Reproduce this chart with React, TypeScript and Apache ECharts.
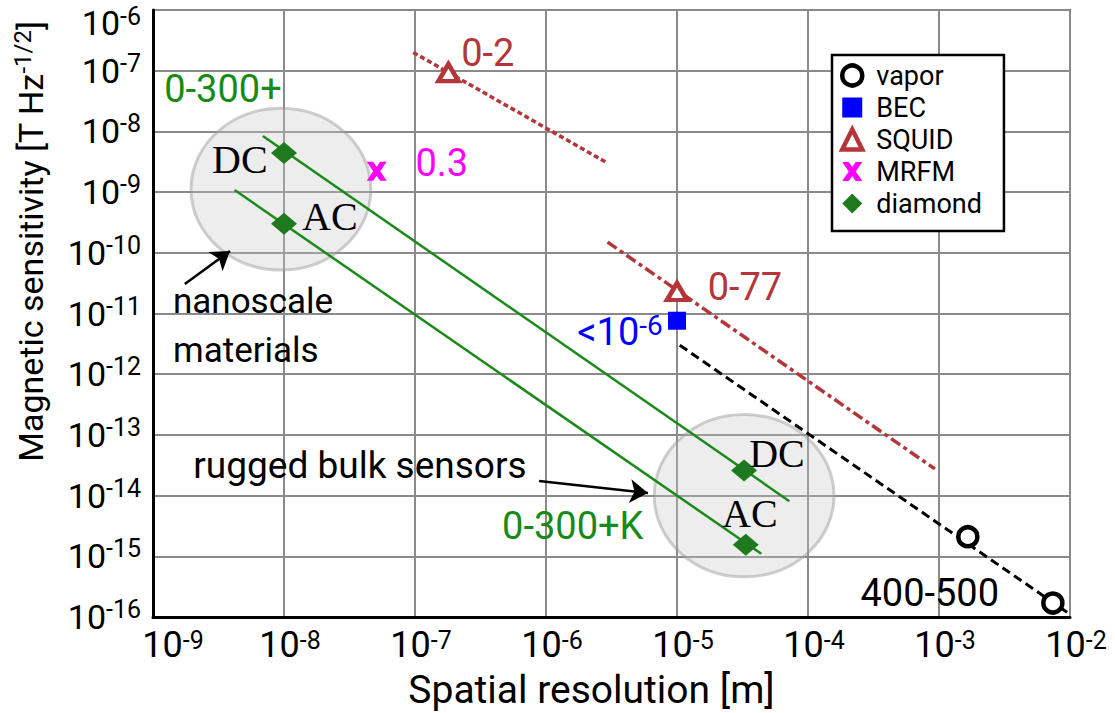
import React, { useEffect, useRef } from "react";
import * as echarts from "echarts";

// ---- axes (decade exponents) ----
const xExponents = [-9, -8, -7, -6, -5, -4, -3, -2];
const yExponents = [-16, -15, -14, -13, -12, -11, -10, -9, -8, -7, -6];

// ---- measured points [m], [T Hz^-1/2] ----
const vaporX = [1.66e-3, 7.4e-3];
const vaporY = [2.1e-15, 1.7e-16];
const becX = [1.0e-5];
const becY = [7.6e-12];
const squidX = [1.8e-7, 1.0e-5];
const squidY = [9.3e-8, 2.3e-11];
const mrfmX = [5.1e-8];
const mrfmY = [2.2e-9];
const diamondX = [1.0e-8, 1.0e-8, 3.25e-5, 3.35e-5];
const diamondY = [4.4e-9, 3.0e-10, 2.6e-14, 1.55e-15];

// ---- trend lines ----
const vaporLineX = [1.05e-5, 9.5e-3];
const vaporLineY = [3.0e-12, 1.2e-16];
const squidLine1X = [9.7e-8, 2.95e-6];
const squidLine1Y = [2.0e-7, 3.0e-9];
const squidLine2X = [2.95e-6, 9.3e-4];
const squidLine2Y = [1.5e-10, 2.75e-14];
const dcLineX = [6.9e-9, 7.2e-5];
const dcLineY = [8.4e-9, 8.1e-15];
const acLineX = [4.2e-9, 4.4e-5];
const acLineY = [1.08e-9, 1.1e-15];

// ---- shaded regions (bounding boxes) ----
const regionXMin = [1.95e-9, 6.7e-6];
const regionXMax = [4.6e-8, 1.58e-4];
const regionYMin = [5.2e-11, 4.6e-16];
const regionYMax = [2.4e-8, 2.16e-13];

// ---- arrows ----
const arrowTailX = [1.75e-9, 8.85e-7];
const arrowTailY = [3.06e-11, 1.74e-14];
const arrowHeadX = [3.87e-9, 6.0e-6];
const arrowHeadY = [1.07e-10, 1.1e-14];

// ---- annotations ----
const annoText = [
  "0-300+", "0.3", "0-2", "0-77", "{a|<10}{s|-6}", "400-500", "0-300+K",
  "rugged bulk sensors", "nanoscale", "materials", "DC", "AC", "DC", "AC",
];
const annoX = [3.42e-9, 1.6e-7, 3.6e-7, 3.3e-5, 3.67e-6, 8.5e-4, 1.6e-6, 3.8e-8, 1.42e-9, 1.42e-9, 4.6e-9, 2.24e-8, 5.8e-5, 3.6e-5];
const annoY = [5.0e-8, 3.0e-9, 1.96e-7, 2.7e-11, 5.0e-12, 2.5e-16, 3.2e-15, 3.1e-14, 1.55e-11, 2.5e-12, 3.4e-9, 3.9e-10, 5.0e-14, 5.1e-15];
const annoKind = ["green", "magenta", "brown", "brown", "blue", "black", "green", "note", "noteL", "noteL", "serif", "serif", "serif", "serif"];

const SANS = "Roboto, 'Open Sans', sans-serif";
const SERIF = "'Liberation Serif', 'DejaVu Serif', serif";
const BROWN = "#b5363a";
const GREEN_LINE = "#1b8a1b";
const GREEN_MARK = "#1f7a1f";
const GREEN_TEXT = "#178a17";
const X_SYMBOL = "path://M0,0L6.5,0L10,5L13.5,0L20,0L13.5,9.5L20,19L13.5,19L10,14L6.5,19L0,19L6.5,9.5Z";

const lg = (v: number) => Math.log10(v);
const pts = (xs: number[], ys: number[]) => xs.map((x, i) => [lg(x), lg(ys[i])]);

const kindStyle: Record<string, any> = {
  green: { fill: GREEN_TEXT, fontSize: 38, fontFamily: SANS, align: "center" },
  magenta: { fill: "#ff00ff", fontSize: 38, fontFamily: SANS, align: "center" },
  brown: { fill: BROWN, fontSize: 38, fontFamily: SANS, align: "center" },
  blue: { fill: "#0000ff", fontSize: 38, fontFamily: SANS, align: "center" },
  black: { fill: "#000", fontSize: 38, fontFamily: SANS, align: "center" },
  note: { fill: "#000", fontSize: 37, fontFamily: SANS, align: "center" },
  noteL: { fill: "#000", fontSize: 35, fontFamily: SANS, align: "left" },
  serif: { fill: "#000", fontSize: 40, fontFamily: SERIF, align: "center" },
};

function buildOption(): any {
  const tickRichX = {
    b: { fontSize: 36, fontFamily: SANS, color: "#000", lineHeight: 34, padding: [0, 0, 0, 12] },
    b0: { fontSize: 36, fontFamily: SANS, color: "#000", lineHeight: 34, padding: [0, 0, 0, 40] },
    s: { fontSize: 25, fontFamily: SANS, color: "#000", lineHeight: 26, verticalAlign: "top" },
  };
  const tickRichY = {
    b: { fontSize: 34, fontFamily: SANS, color: "#000", lineHeight: 40 },
    s: { fontSize: 25, fontFamily: SANS, color: "#000", lineHeight: 30, verticalAlign: "top" },
    bt: { fontSize: 34, fontFamily: SANS, color: "#000", lineHeight: 40, padding: [26, 0, 0, 0] },
    st: { fontSize: 25, fontFamily: SANS, color: "#000", lineHeight: 30, padding: [14, 0, 0, 0], verticalAlign: "top" },
  };

  return {
    animation: false,
    backgroundColor: "#fff",
    grid: {
      left: 153, right: 45, top: 10, bottom: 96,
      show: true, borderColor: "#555", borderWidth: 2,
      containLabel: false, outerBoundsMode: "none",
    },
    legend: {
      orient: "vertical",
      left: 832,
      top: 55,
      padding: [7, 22, 14, 8],
      backgroundColor: "#fff",
      borderColor: "#000",
      borderWidth: 2.5,
      itemWidth: 20,
      itemHeight: 20,
      itemGap: 5,
      selectedMode: false,
      z: 20,
      textStyle: { fontFamily: SANS, fontSize: 27, color: "#000", padding: [0, 0, 0, 9] },
      data: [
        { name: "vapor", icon: "circle", itemStyle: { color: "#fff", borderColor: "#000", borderWidth: 4.5, opacity: 1 } },
        { name: "BEC", icon: "rect", itemStyle: { color: "#0000ff", borderWidth: 0, opacity: 1 } },
        { name: "SQUID", icon: "triangle", itemStyle: { color: "#fff", borderColor: BROWN, borderWidth: 4.5, opacity: 1 } },
        { name: "MRFM", icon: X_SYMBOL, itemStyle: { color: "#ff00ff", borderWidth: 0, opacity: 1 } },
        { name: "diamond", icon: "diamond", itemStyle: { color: GREEN_MARK, borderWidth: 0, opacity: 1 } },
      ],
    },
    xAxis: {
      type: "value",
      min: xExponents[0],
      max: xExponents[xExponents.length - 1],
      interval: 1,
      name: "Spatial resolution [m]",
      nameLocation: "middle",
      nameGap: 55,
      nameTextStyle: { fontFamily: SANS, fontSize: 39, color: "#000", lineHeight: 36, padding: [0, 40, 0, 0] },
      axisLine: { lineStyle: { color: "#000", width: 3 } },
      axisTick: { show: false },
      splitLine: { show: true, lineStyle: { color: "#8a8a8a", width: 2 } },
      axisLabel: {
        margin: 11,
        formatter: (v: number) => {
          const e = Math.round(v);
          return e === xExponents[0] ? `{b0|10}{s|${e}}` : `{b|10}{s|${e}}`;
        },
        rich: tickRichX,
      },
    },
    yAxis: {
      type: "value",
      min: yExponents[0],
      max: yExponents[yExponents.length - 1],
      interval: 1,
      name: "Magnetic sensitivity [T Hz{s|-1/2}]",
      nameLocation: "middle",
      nameGap: 102,
      nameTextStyle: {
        fontFamily: SANS,
        fontSize: 34,
        color: "#000",
        lineHeight: 40,
        padding: [0, 0, 0, 144],
        rich: { s: { fontFamily: SANS, fontSize: 24, color: "#000", lineHeight: 28, verticalAlign: "top" } },
      },
      axisLine: { lineStyle: { color: "#000", width: 3 } },
      axisTick: { show: false },
      splitLine: { show: true, lineStyle: { color: "#8a8a8a", width: 2 } },
      axisLabel: {
        margin: 12,
        formatter: (v: number) => {
          const e = Math.round(v);
          return e === yExponents[yExponents.length - 1] ? `{bt|10}{st|${e}}` : `{b|10}{s|${e}}`;
        },
        rich: tickRichY,
      },
    },
    series: [
      {
        name: "regions",
        type: "custom",
        coordinateSystem: "cartesian2d",
        silent: true,
        z: 1,
        data: regionXMin.map((x, i) => [lg(x), lg(regionYMin[i]), lg(regionXMax[i]), lg(regionYMax[i])]),
        renderItem: (params: any, api: any) => {
          const p1 = api.coord([api.value(0), api.value(3)]);
          const p2 = api.coord([api.value(2), api.value(1)]);
          return {
            type: "ellipse",
            shape: { cx: (p1[0] + p2[0]) / 2, cy: (p1[1] + p2[1]) / 2, rx: Math.abs(p2[0] - p1[0]) / 2, ry: Math.abs(p2[1] - p1[1]) / 2 },
            style: { fill: "rgba(200,200,200,0.33)", stroke: "rgba(150,150,150,0.45)", lineWidth: 3 },
          };
        },
      },
      {
        name: "vapor trend", type: "line", data: pts(vaporLineX, vaporLineY), symbol: "none", silent: true, z: 3,
        lineStyle: { color: "#000", width: 3, type: [9, 5] },
      },
      {
        name: "SQUID trend 1", type: "line", data: pts(squidLine1X, squidLine1Y), symbol: "none", silent: true, z: 3,
        lineStyle: { color: BROWN, width: 3.5, type: [5, 3] },
      },
      {
        name: "SQUID trend 2", type: "line", data: pts(squidLine2X, squidLine2Y), symbol: "none", silent: true, z: 3,
        lineStyle: { color: BROWN, width: 3.5, type: [11, 4, 4, 4] },
      },
      {
        name: "DC trend", type: "line", data: pts(dcLineX, dcLineY), symbol: "none", silent: true, z: 3,
        lineStyle: { color: GREEN_LINE, width: 2.5 },
      },
      {
        name: "AC trend", type: "line", data: pts(acLineX, acLineY), symbol: "none", silent: true, z: 3,
        lineStyle: { color: GREEN_LINE, width: 2.5 },
      },
      {
        name: "arrows",
        type: "lines",
        coordinateSystem: "cartesian2d",
        silent: true,
        z: 6,
        symbol: ["none", "arrow"],
        symbolSize: 18,
        lineStyle: { color: "#000", width: 2.5, opacity: 1 },
        data: arrowTailX.map((x, i) => ({ coords: [[lg(x), lg(arrowTailY[i])], [lg(arrowHeadX[i]), lg(arrowHeadY[i])]] })),
      },
      {
        name: "vapor", type: "scatter", data: pts(vaporX, vaporY), symbol: "circle", symbolSize: 19, z: 5,
        itemStyle: { color: "#fff", borderColor: "#000", borderWidth: 4.5, opacity: 1 },
      },
      {
        name: "BEC", type: "scatter", data: pts(becX, becY), symbol: "rect", symbolSize: 18, z: 5,
        itemStyle: { color: "#0000ff", opacity: 1 },
      },
      {
        name: "SQUID", type: "scatter", data: pts(squidX, squidY), symbol: "triangle", symbolSize: [20, 17], z: 5,
        itemStyle: { color: "#fff", borderColor: BROWN, borderWidth: 4.5, opacity: 1 },
      },
      {
        name: "MRFM", type: "scatter", data: pts(mrfmX, mrfmY), symbol: X_SYMBOL, symbolSize: [20, 19], z: 5,
        itemStyle: { color: "#ff00ff", opacity: 1 },
      },
      {
        name: "diamond", type: "scatter", data: pts(diamondX, diamondY), symbol: "diamond", symbolSize: [26, 22], z: 5,
        itemStyle: { color: GREEN_MARK, opacity: 1 },
      },
      {
        name: "annotations",
        type: "custom",
        coordinateSystem: "cartesian2d",
        silent: true,
        z: 10,
        data: annoX.map((x, i) => [lg(x), lg(annoY[i]), i]),
        renderItem: (params: any, api: any) => {
          const i = api.value(2);
          const p = api.coord([api.value(0), api.value(1)]);
          const k = kindStyle[annoKind[i]];
          return {
            type: "text",
            x: p[0],
            y: p[1],
            style: {
              text: annoText[i],
              fill: k.fill,
              fontSize: k.fontSize,
              fontFamily: k.fontFamily,
              align: k.align,
              verticalAlign: "middle",
              rich: {
                a: { fill: k.fill, fontSize: 38, fontFamily: SANS, lineHeight: 40 },
                s: { fill: k.fill, fontSize: 28, fontFamily: SANS, lineHeight: 24, verticalAlign: "top" },
              },
            },
          };
        },
      },
    ],
  };
}

export default function App() {
  const ref = useRef<HTMLDivElement>(null);
  useEffect(() => {
    document.body.style.margin = "0";
    const chart = echarts.init(ref.current as HTMLDivElement, null, { renderer: "svg" });
    chart.setOption(buildOption());
    return () => chart.dispose();
  }, []);
  return <div ref={ref} style={{ width: 1115, height: 713, background: "#fff" }} />;
}
